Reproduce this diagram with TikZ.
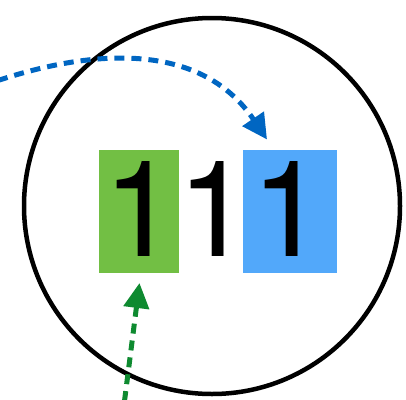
\documentclass[tikz,border=0pt]{standalone}
\usepackage{fontspec}
\setmainfont{TeX Gyre Heros}
\usetikzlibrary{arrows.meta}
\definecolor{boxgreen}{HTML}{72BF44}
\definecolor{boxblue}{HTML}{52A8FA}
\definecolor{arrblue}{HTML}{0066C2}
\definecolor{arrgreen}{HTML}{0E8A30}
\tikzset{
  digit/.style={inner sep=0pt, anchor=base, font=\fontsize{134}{134}\selectfont},
  flowarrow/.style={line width=5pt, dash pattern=on 10pt off 7pt, -{Triangle[length=25pt,width=25pt]}}
}
\begin{document}
\begin{tikzpicture}[x=1pt,y=-1pt]
\useasboundingbox (0,0) rectangle (406,399);
\node[draw=black, line width=4.5pt, circle, minimum size=376pt, inner sep=0pt] (ring) at (212,206) {};
\fill[boxgreen] (99,150) rectangle (179,272.5);
\fill[boxblue] (243,150) rectangle (337,272.5);
\node[digit] (d1) at (140.4,256.7) {1};
\node[digit] (d2) at (214.4,256.7) {1};
\node[digit] (d3) at (288.4,256.7) {1};
\coordinate (bstart) at (-2,80.5);
\coordinate (btip) at (267,139.5);
\coordinate (gstart) at (124.5,401);
\coordinate (gtip) at (139.5,283);
\draw[flowarrow, arrblue] (bstart) .. controls (90,50) and (200,40) .. (btip);
\draw[flowarrow, arrgreen] (gstart) -- (gtip);
\end{tikzpicture}
\end{document}
